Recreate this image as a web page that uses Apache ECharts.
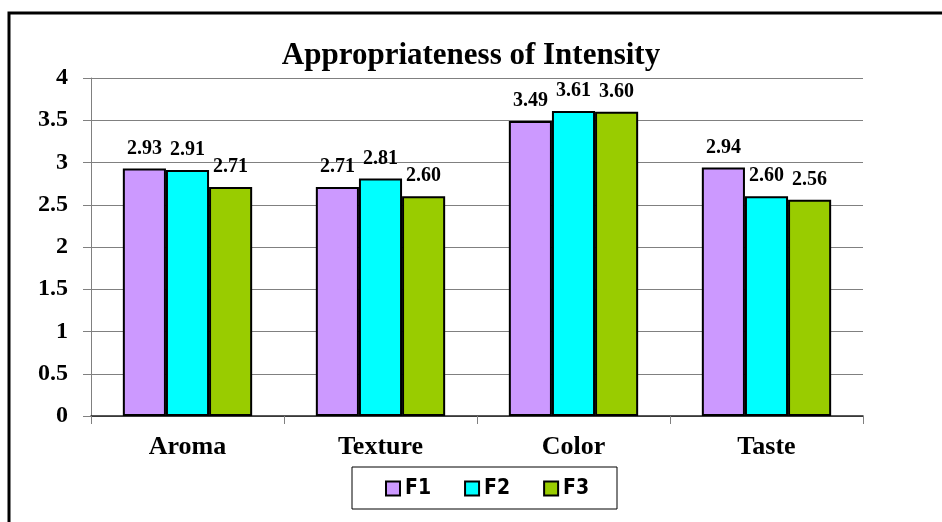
<!DOCTYPE html>
<html>
<head>
<meta charset="utf-8">
<script src="https://cdn.jsdelivr.net/npm/echarts@6/dist/echarts.min.js"></script>
<style>html,body{margin:0;padding:0;background:#fff}#c{width:942px;height:522px}</style>
</head>
<body>
<div id="c"></div>
<script>
var categories = ['Aroma', 'Texture', 'Color', 'Taste'];
var seriesNames = ['F1', 'F2', 'F3'];
var f1 = [2.93, 2.71, 3.49, 2.94];
var f2 = [2.91, 2.81, 3.61, 2.60];
var f3 = [2.71, 2.60, 3.60, 2.56];
var colors = ['#CC99FF', '#00FFFF', '#99CC00'];
var yTicks = [0, 0.5, 1, 1.5, 2, 2.5, 3, 3.5, 4];

var serif = '"Liberation Serif", "Times New Roman", serif';
var chart = echarts.init(document.getElementById('c'));
function mk(name, data, color) {
  return {
    name: name, type: 'bar', data: data,
    barGap: '0%', barCategoryGap: '33%',
    itemStyle: { color: color, borderColor: '#000', borderWidth: 2 },
    label: {
      show: true, position: 'top', distance: 10,
      formatter: function (p) { return p.value.toFixed(2); },
      fontFamily: serif, fontWeight: 'bold', fontSize: 20, color: '#000'
    }
  };
}
chart.setOption({
  animation: false,
  title: {
    text: 'Appropriateness of Intensity', left: 'center', top: 35,
    textStyle: { fontFamily: serif, fontWeight: 'bold', fontSize: 31, color: '#000' }
  },
  graphic: [
    { type: 'polyline', shape: { points: [[9, 540], [9, 13], [960, 13]] },
      style: { fill: 'none', stroke: '#000', lineWidth: 3 }, z: -1 },
    { type: 'rect', shape: { x: 352, y: 467, width: 265, height: 42 },
      style: { fill: 'none', stroke: '#000', lineWidth: 1 } }
  ],
  legend: {
    data: seriesNames, left: 385, top: 478, padding: 0,
    icon: 'rect', itemWidth: 14, itemHeight: 14, itemGap: 33,
    textStyle: { fontFamily: '"DejaVu Sans Condensed", "DejaVu Sans", sans-serif', fontWeight: 'bold', fontSize: 21, color: '#000' }
  },
  grid: { left: 91, right: 79, top: 78, bottom: 106 },
  xAxis: {
    type: 'category', data: categories,
    axisLine: { lineStyle: { color: '#222', width: 1.5 } },
    axisTick: { show: true, length: 8, lineStyle: { color: '#808080' } },
    axisLabel: { margin: 18, fontFamily: serif, fontWeight: 'bold', fontSize: 26, color: '#000' }
  },
  yAxis: {
    type: 'value', min: 0, max: 4, interval: 0.5,
    axisLine: { show: true, lineStyle: { color: '#808080' } },
    axisTick: { show: true, length: 8, lineStyle: { color: '#808080' } },
    splitLine: { lineStyle: { color: '#808080', width: 1 } },
    axisLabel: {
      margin: 23, fontFamily: serif, fontWeight: 'bold', fontSize: 24, color: '#000',
      formatter: function (v) { return yTicks.indexOf(v) >= 0 ? String(v) : ''; }
    }
  },
  series: [mk(seriesNames[0], f1, colors[0]), mk(seriesNames[1], f2, colors[1]), mk(seriesNames[2], f3, colors[2])]
});
</script>
</body>
</html>
